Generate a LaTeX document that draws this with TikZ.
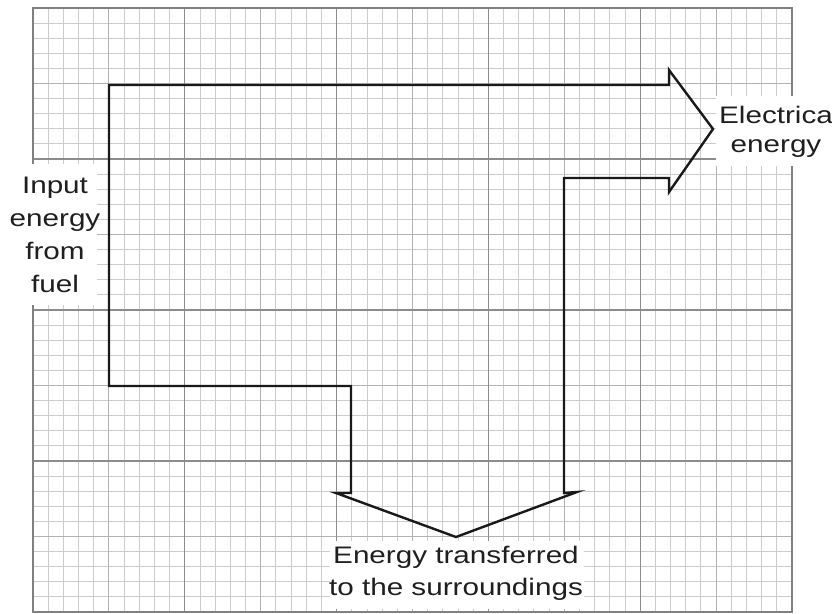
\documentclass[tikz,border=0pt]{standalone}
\usepackage{fontspec}
\setmainfont{Liberation Sans}
\begin{document}
\begin{tikzpicture}[x=1bp,y=-1bp,
  minorline/.style={line width=0.9bp, draw=black!20},
  midline/.style={line width=1bp, draw=black!30},
  majorline/.style={line width=1.1bp, draw=black!45},
  borderline/.style={line width=1.3bp, draw=black!50},
  blank/.style={fill=white, draw=none},
  flow/.style={line width=2.4bp, draw=black!90, line join=miter},
  lab/.style={inner sep=0pt, align=center, xscale=1.24, transform shape, text=black!88}]
\useasboundingbox (0,0) rectangle (832,614);
% graph paper
\foreach \i in {0,...,50} \draw[minorline] ({33+\i*15.18},8) -- ({33+\i*15.18},612);
\foreach \j in {0,...,40} \draw[minorline] (33,{8+\j*15.1}) -- (792,{8+\j*15.1});
\foreach \i in {5,15,...,45} \draw[midline] ({33+\i*15.18},8) -- ({33+\i*15.18},612);
\foreach \j in {5,15,25,35} \draw[midline] (33,{8+\j*15.1}) -- (792,{8+\j*15.1});
\foreach \i in {10,20,30,40} \draw[majorline] ({33+\i*15.18},8) -- ({33+\i*15.18},612);
\foreach \j in {10,20,30} \draw[majorline] (33,{8+\j*15.1}) -- (792,{8+\j*15.1});
\draw[borderline] (33,8) rectangle (792,612);
% white label backgrounds
\fill[blank] (18,164) rectangle (97,305);
\fill[blank] (716,96) rectangle (832,166);
\fill[blank] (330,541) rectangle (584,609);
% energy flow arrow
\coordinate (a1) at (109,85);
\coordinate (a2) at (669,85);
\coordinate (a3) at (669,70);
\coordinate (tipR) at (713,129);
\coordinate (a4) at (669,192);
\coordinate (a5) at (669,178);
\coordinate (a6) at (564,178);
\coordinate (a7) at (564,493);
\coordinate (a8) at (577,492);
\coordinate (tipD) at (456,537);
\coordinate (a9) at (336,493);
\coordinate (a10) at (351,493);
\coordinate (a11) at (351,386);
\coordinate (a12) at (109,386);
\draw[flow] (a1) -- (a2) -- (a3) -- (tipR) -- (a4) -- (a5) -- (a6) -- (a7) -- (a8) -- (tipD) -- (a9) -- (a10) -- (a11) -- (a12) -- cycle;
% labels
\node[lab, anchor=north, font=\fontsize{24}{33}\selectfont] (input) at (55,177) {Input\\energy\\from\\fuel};
\node[lab, anchor=north, font=\fontsize{24}{29}\selectfont] (elec) at (776,106) {Electrica\\energy};
\node[lab, anchor=north, font=\fontsize{24}{32}\selectfont] (surr) at (456,546) {Energy transferred\\to the surroundings};
\end{tikzpicture}
\end{document}
